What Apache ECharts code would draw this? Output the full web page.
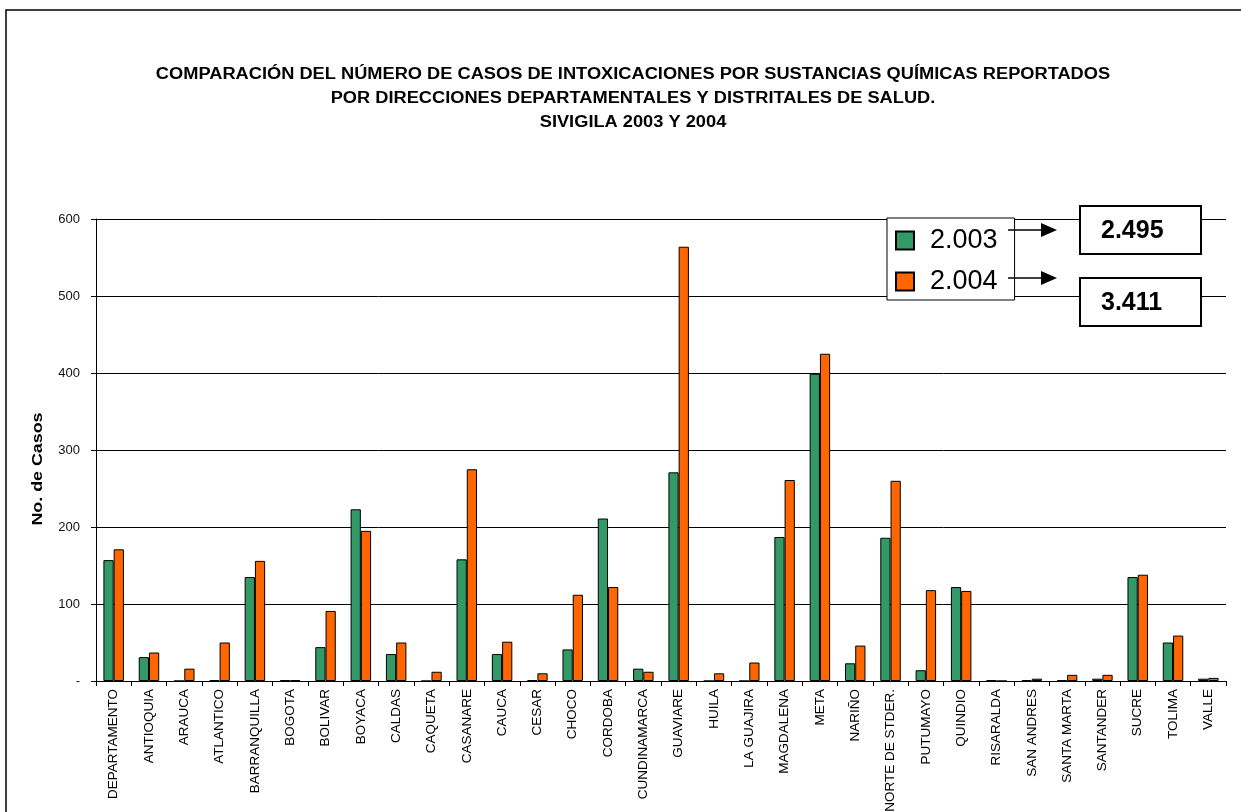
<!DOCTYPE html>
<html>
<head>
<meta charset="utf-8">
<script src="https://cdn.jsdelivr.net/npm/echarts@6/dist/echarts.min.js"></script>
<style>
html,body{margin:0;padding:0;background:#fff;}
#chart{width:1241px;height:812px;}
</style>
</head>
<body>
<div id="chart"></div>
<script>
const categories = ['DEPARTAMENTO','ANTIOQUIA','ARAUCA','ATLANTICO','BARRANQUILLA','BOGOTA','BOLIVAR','BOYACA','CALDAS','CAQUETA','CASANARE','CAUCA','CESAR','CHOCO','CORDOBA','CUNDINAMARCA','GUAVIARE','HUILA','LA GUAJIRA','MAGDALENA','META','NARIÑO','NORTE DE STDER.','PUTUMAYO','QUINDIO','RISARALDA','SAN ANDRES','SANTA MARTA','SANTANDER','SUCRE','TOLIMA','VALLE'];
const values2003 = [157,31,0,1,135,1,44,223,35,0,158,35,1,41,211,16,271,0,0,187,399,23,186,14,122,1,1,1,3,135,50,3];
const values2004 = [171,37,16,50,156,1,91,195,50,12,275,51,10,112,122,12,564,10,24,261,425,46,260,118,117,0,3,8,8,138,59,4];
const seriesNames = ['2.003','2.004'];
const totals = ['2.495','3.411'];
const yTicks = [0,100,200,300,400,500,600];
const titleLines = ['COMPARACIÓN DEL NÚMERO DE CASOS DE INTOXICACIONES POR SUSTANCIAS QUÍMICAS REPORTADOS','POR DIRECCIONES DEPARTAMENTALES Y DISTRITALES DE SALUD.','SIVIGILA 2003 Y 2004'];

const FONT = 'Arial, "Liberation Sans", sans-serif';
const chart = echarts.init(document.getElementById('chart'));

function arrow(y){
  return [
    {type:'line', shape:{x1:1008,y1:y,x2:1043,y2:y}, style:{stroke:'#000',lineWidth:1.5}, z:20},
    {type:'polygon', shape:{points:[[1041,y-7],[1057,y],[1041,y+7]]}, style:{fill:'#000'}, z:20}
  ];
}
function box(y, txt){
  return [
    {type:'rect', shape:{x:1080,y:y,width:121,height:48}, style:{fill:'#fff',stroke:'#000',lineWidth:2}, z:20},
    {type:'text', x:1101, y:y+25, style:{text:txt, font:'bold 25px ' + FONT, fill:'#000', textVerticalAlign:'middle', textAlign:'left'}, z:21}
  ];
}

chart.setOption({
  animation:false,
  backgroundColor:'#fff',
  textStyle:{fontFamily:FONT},
  grid:{left:96, right:15, top:219, bottom:131, containLabel:false, outerBoundsMode:'none'},
  legend:{
    orient:'vertical', left:887, top:218, width:127,
    data:seriesNames,
    icon:'rect', itemWidth:18, itemHeight:18, itemGap:14,
    padding:[9,17,5,8],
    backgroundColor:'#fff', borderColor:'#000', borderWidth:1,
    textStyle:{fontSize:27, color:'#000', fontFamily:FONT, padding:[0,0,0,11]},
    z:20
  },
  xAxis:{
    type:'category', data:categories,
    axisLine:{lineStyle:{color:'#000',width:1}},
    axisTick:{show:true, length:5, lineStyle:{color:'#000'}},
    axisLabel:{rotate:90, interval:0, fontSize:13.5, color:'#000', margin:8, fontFamily:FONT}
  },
  yAxis:{
    type:'value', min:0, max:600, interval:100,
    axisLine:{show:true, lineStyle:{color:'#000',width:1}},
    axisTick:{show:true, length:5, lineStyle:{color:'#000'}},
    axisLabel:{fontSize:13, color:'#111', margin:16, fontFamily:FONT,
      formatter:function(v){ return v === yTicks[0] ? '-' : String(v); }},
    splitLine:{show:true, lineStyle:{color:'#000', width:1}}
  },
  series:[
    {name:seriesNames[0], type:'bar', data:values2003, barGap:'0%', barCategoryGap:'42%',
      itemStyle:{color:'#339966', borderColor:'#000', borderWidth:1}},
    {name:seriesNames[1], type:'bar', data:values2004, barGap:'0%', barCategoryGap:'42%',
      itemStyle:{color:'#FF6600', borderColor:'#000', borderWidth:1}}
  ],
  graphic:[
    {type:'rect', shape:{x:6,y:10,width:1400,height:1000}, style:{fill:'none',stroke:'#000',lineWidth:1.5}, z:-1, silent:true},
    {type:'text', x:633, y:63, scaleX:1.14, style:{text:titleLines.join('\n'), font:'bold 16px ' + FONT, fill:'#000', textAlign:'center', textVerticalAlign:'top', lineHeight:24}},
    {type:'text', x:38, y:469, rotation:Math.PI/2, scaleX:1.19, style:{text:'No. de Casos', font:'bold 15px ' + FONT, fill:'#000', textAlign:'center', textVerticalAlign:'middle'}},
    ...arrow(230), ...arrow(278),
    ...box(206, totals[0]), ...box(278, totals[1])
  ]
});
</script>
</body>
</html>
